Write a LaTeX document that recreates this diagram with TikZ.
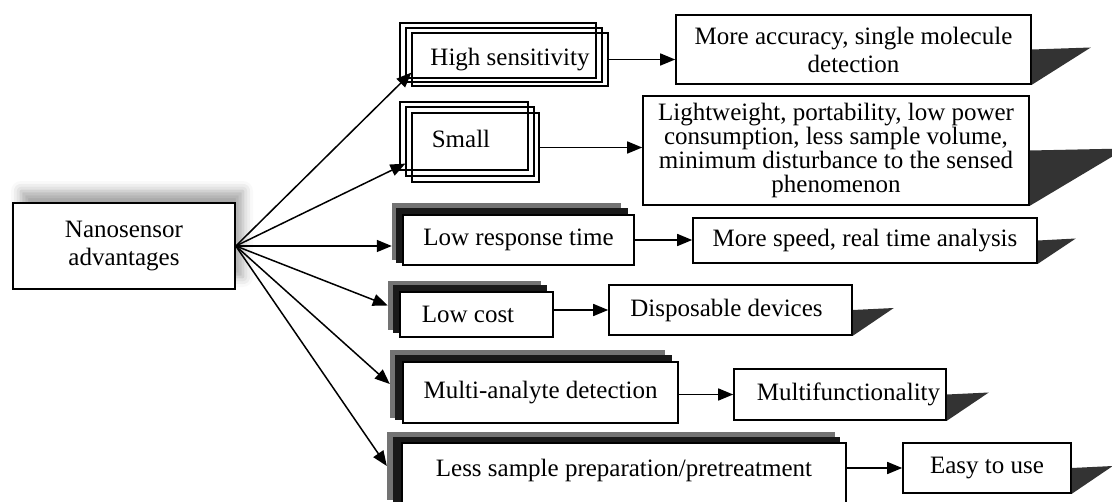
\documentclass[tikz,border=0pt]{standalone}
\usepackage{fontspec}
\setmainfont{Liberation Serif}
\usetikzlibrary{arrows.meta,calc,shadows.blur}
\tikzset{
  card/.style={draw, line width=1.6pt, fill=white, inner sep=0pt, align=center},
  frame/.style={draw, line width=1.2pt, inner sep=0pt, align=center},
  backgray/.style={fill=black!55, inner sep=0pt},
  backblack/.style={fill=black!90, inner sep=0pt},
  arr/.style={line width=1.5pt, -{Triangle[length=15pt,width=12pt]}},
}
\begin{document}
\begin{tikzpicture}[x=1pt, y=-1pt, font=\fontsize{25}{28}\selectfont]
\useasboundingbox (0,0) rectangle (1112,502);
\clip (0,0) rectangle (1112,502);

% root
\node[card, minimum width=222pt, minimum height=86pt,
  blur shadow={shadow xshift=8pt, shadow yshift=12pt, shadow opacity=35, shadow blur radius=10pt}]
  (root) at (124,246) {Nanosensor\\advantages};

% outlined stacks
\node[frame, minimum width=196pt, minimum height=55pt] (hsa) at (498,50.5) {};
\node[frame, minimum width=196pt, minimum height=54pt] (hsb) at (504,55) {};
\node[frame, minimum width=196pt, minimum height=53pt] (hs) at (510,59.5) {High sensitivity};

\node[frame, minimum width=128pt, minimum height=68pt] (smalla) at (464,136) {};
\node[frame, minimum width=128pt, minimum height=69pt] (smallb) at (470,141.5) {};
\node[frame, minimum width=127pt, minimum height=69pt, text depth=18pt] (small) at (475.5,147.5) {Small\hspace*{29pt}};

% filled stacks
\node[backgray, minimum width=229pt, minimum height=57pt] (lowg) at (506.5,231.5) {};
\node[backblack, minimum width=232pt, minimum height=55pt] (lowb) at (512,235.5) {};
\node[card, minimum width=231pt, minimum height=50pt] (low) at (518.5,240) {Low response time};

\node[backgray, minimum width=153pt, minimum height=49pt] (costg) at (464.5,305.5) {};
\node[backblack, minimum width=154pt, minimum height=48pt] (costb) at (470,309) {};
\node[card, minimum width=153pt, minimum height=45pt] (cost) at (476.5,314.5) {Low cost\hspace*{17pt}};

\node[backgray, minimum width=275pt, minimum height=68pt] (multig) at (527.5,384) {};
\node[backblack, minimum width=277pt, minimum height=65pt] (multib) at (533.5,387.5) {};
\node[card, minimum width=275pt, minimum height=61pt] (multi) at (540.5,392.5) {Multi-analyte detection};

\node[backgray, minimum width=448pt, minimum height=68pt] (lessg) at (611,466) {};
\node[backblack, minimum width=447pt, minimum height=65pt] (lessb) at (616.5,469.5) {};
\node[card, minimum width=444pt, minimum height=62pt, text depth=12pt] (less) at (624,474) {Less sample preparation/pretreatment};

% results
\node[card, minimum width=355pt, minimum height=69pt] (acc) at (853.5,49.5) {More accuracy, single molecule\\detection};
\node[card, minimum width=386pt, minimum height=109pt, font=\fontsize{25}{24}\selectfont] (light) at (836,150.5)
  {Lightweight, portability, low power\\consumption, less sample volume,\\minimum disturbance to the sensed\\phenomenon};
\node[card, minimum width=344pt, minimum height=45pt] (speed) at (865,240.5) {More speed, real time analysis};
\node[card, minimum width=243pt, minimum height=50pt] (disp) at (730.5,310) {Disposable devices\hspace*{8pt}};
\node[card, minimum width=212pt, minimum height=51pt] (multif) at (840,394.5) {\hspace*{17pt}Multifunctionality};
\node[card, minimum width=168pt, minimum height=50pt] (easy) at (987,468) {Easy to use};

\foreach \n/\d in {acc/59, light/96, speed/38, disp/41, multif/42, easy/41}
  \fill[black!80] (\n.east) -- ++(\d,-2) -- (\n.south east) -- cycle;

% arrows
\draw[arr] (root.east) -- ($(hs.south west)+(0,-14)$);
\draw[arr] (root.east) -- ($(smallb.south west)+(0,-13)$);
\draw[arr] (root.east) -- (lowg.west |- root.east);
\draw[arr] (root.east) -- (costg.west);
\draw[arr] (root.east) -- (multig.west);
\draw[arr] (root.east) -- (lessg.west);

\draw[arr] (hs.east) -- (hs.east -| acc.west);
\draw[arr] (small.east) -- (small.east -| light.west);
\draw[arr] (low.east) -- (low.east -| speed.west);
\draw[arr] (cost.east |- disp.west) -- (disp.west);
\draw[arr] (multi.east |- multif.west) -- (multif.west);
\draw[arr] (less.east |- easy.west) -- (easy.west);
\end{tikzpicture}
\end{document}
